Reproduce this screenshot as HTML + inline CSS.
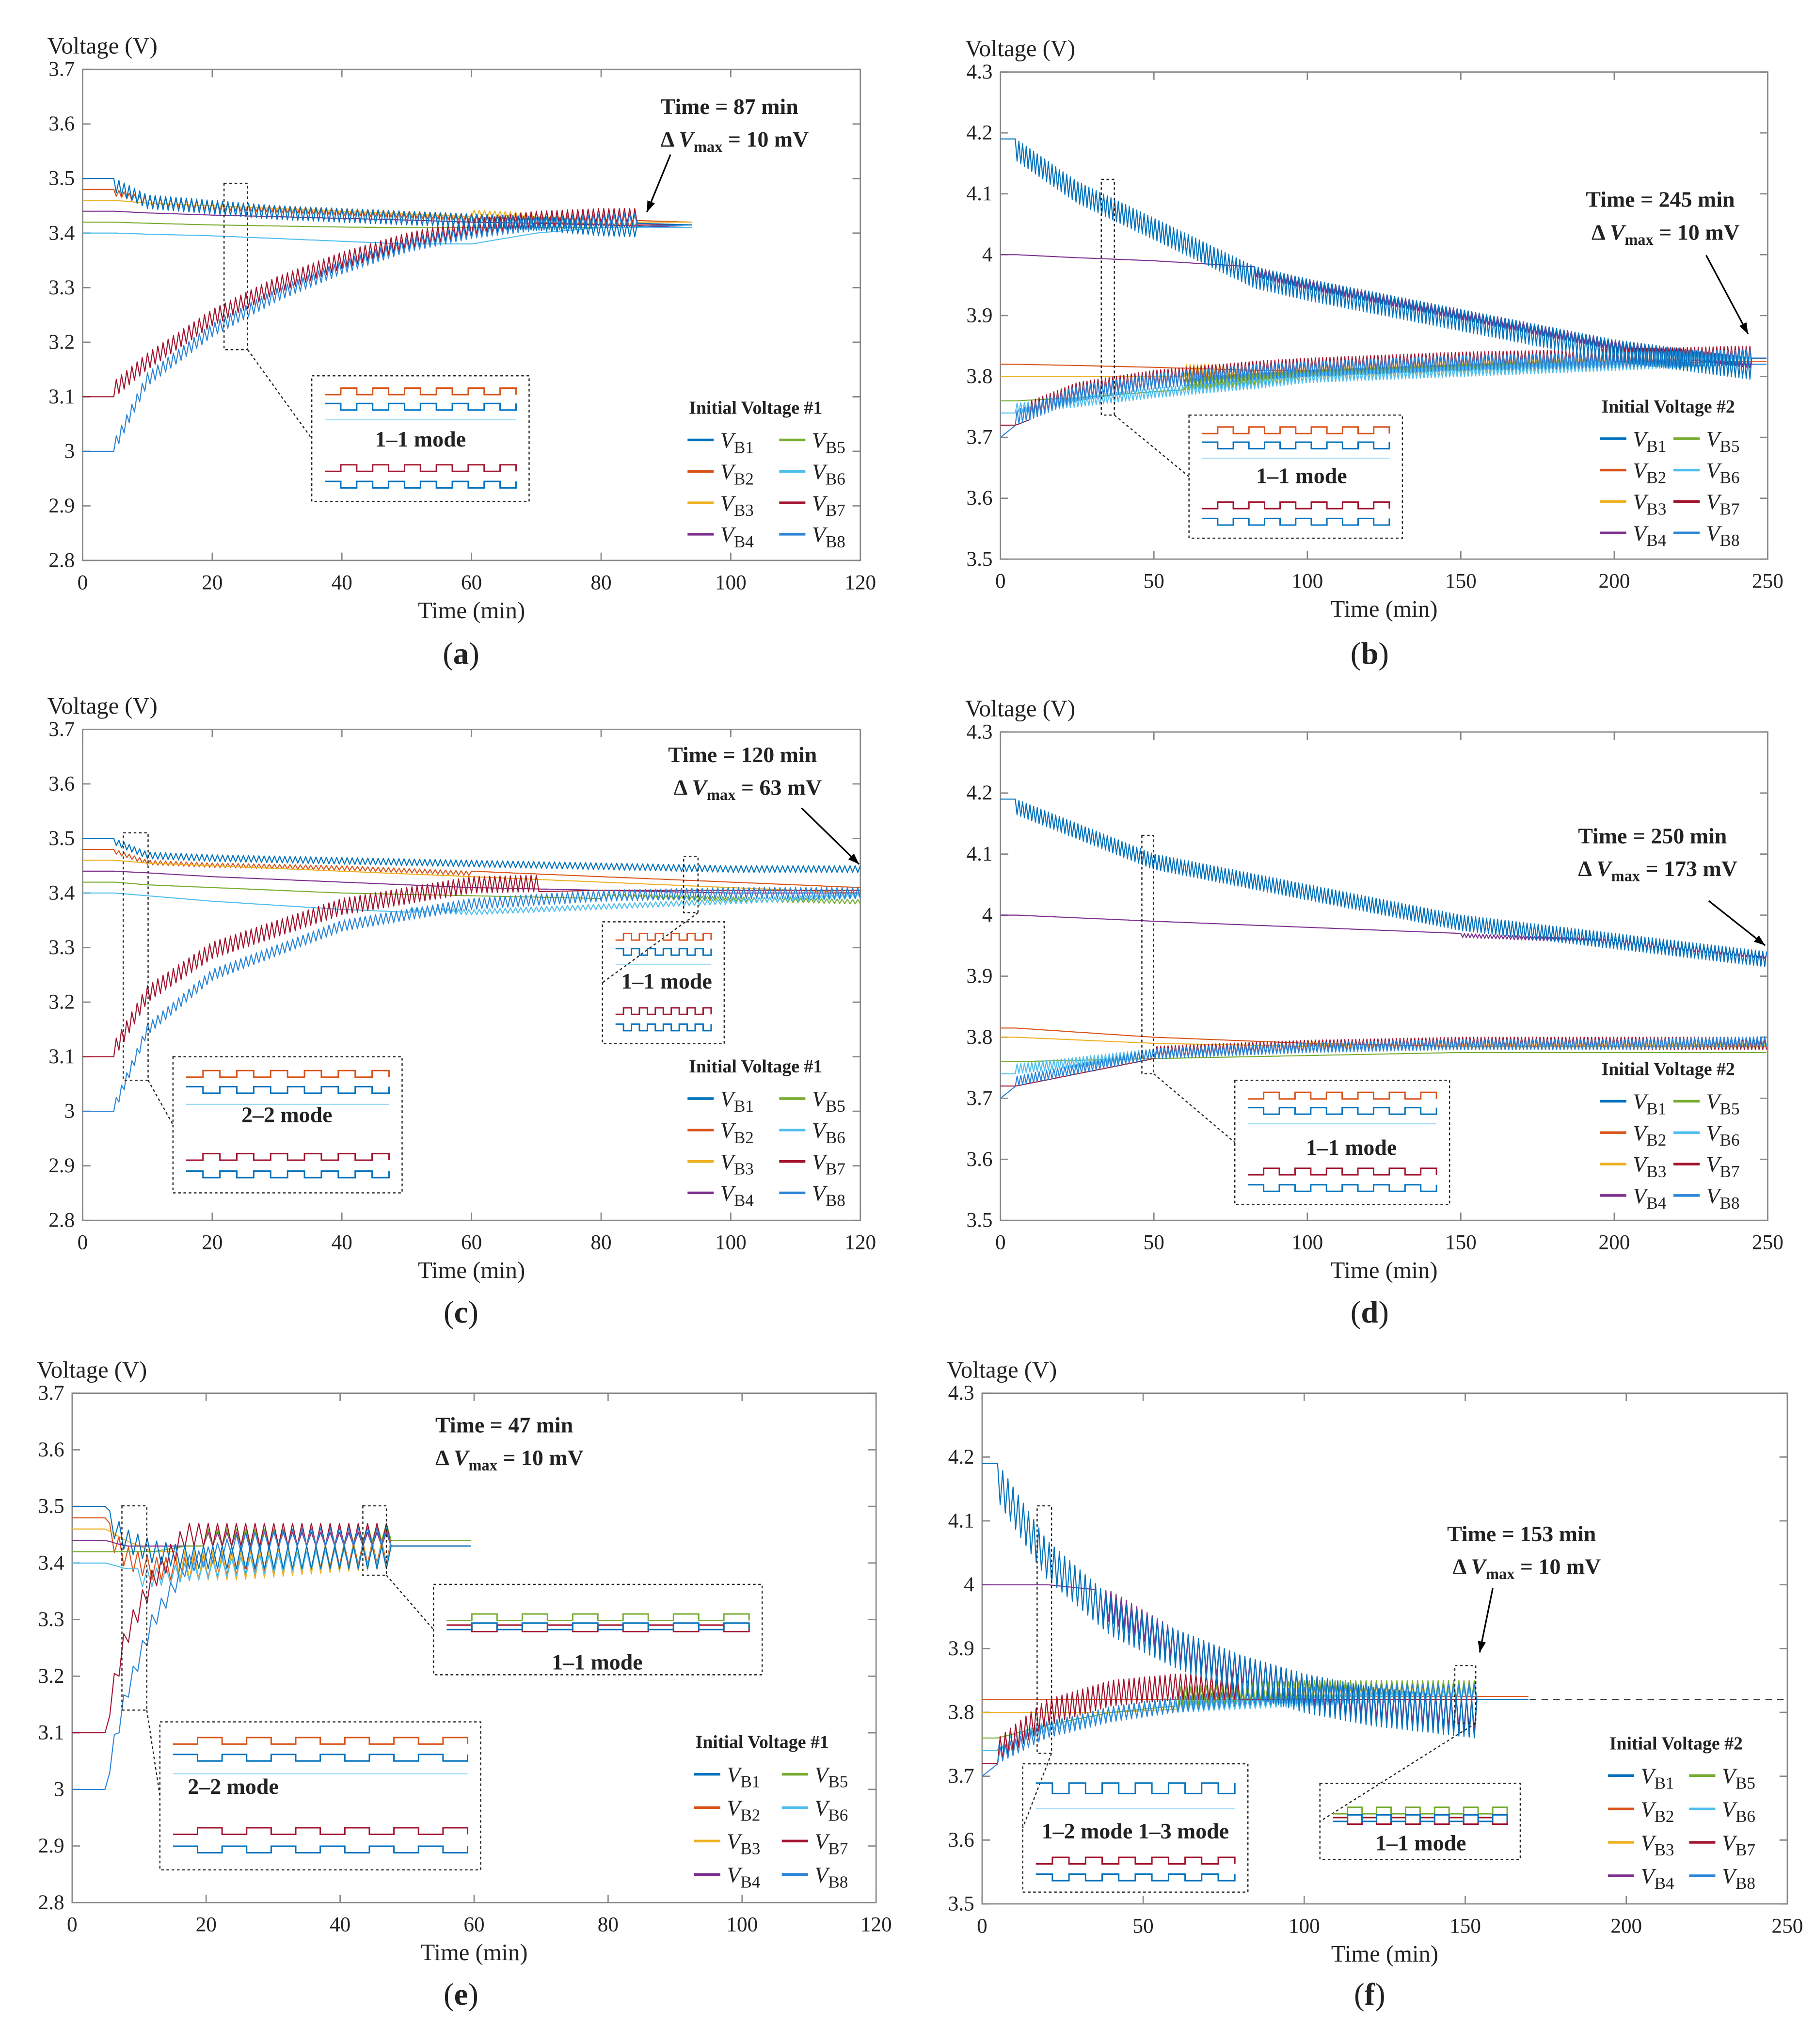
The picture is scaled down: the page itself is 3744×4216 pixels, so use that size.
<!DOCTYPE html>
<html><head><meta charset="utf-8"><style>
html,body{margin:0;padding:0;background:#fff;}
svg{display:block;font-family:"Liberation Serif",serif;}
</style></head><body>
<svg id="fig" xmlns="http://www.w3.org/2000/svg" width="3744" height="4216" viewBox="0 0 1386 1561"></svg>
<script>
const COLORS=["#0072BD","#D95319","#EDB120","#7E2F8E","#77AC30","#4DBEEE","#A2142F","#2A85D8"];
// ---- panel data (time keypoints / voltages / oscillation amplitude & range) ----
const timesA=[0,5,10,20,30,40,50,60,70,80,94];
const voltsA=[[3.50,3.50,3.47,3.46,3.45,3.445,3.44,3.435,3.43,3.42,3.415],[3.48,3.48,3.465,3.455,3.45,3.445,3.44,3.435,3.43,3.425,3.42],[3.46,3.46,3.455,3.45,3.445,3.44,3.435,3.43,3.425,3.42,3.42],[3.44,3.44,3.437,3.433,3.43,3.427,3.424,3.42,3.418,3.415,3.41],[3.42,3.42,3.418,3.415,3.413,3.411,3.41,3.41,3.41,3.41,3.41],[3.40,3.40,3.398,3.395,3.39,3.385,3.38,3.38,3.40,3.41,3.41],[3.10,3.10,3.15,3.23,3.29,3.335,3.37,3.395,3.41,3.415,3.415],[3.00,3.00,3.12,3.21,3.275,3.325,3.365,3.39,3.405,3.41,3.415]];
const ampA=[-0.025,-0.015,0.012,0,0,0,0.03,0.03];
const oscA=[[5,86],[5,86],[60,86],[0,0],[0,0],[0,0],[5,86],[5,86]];
const timesB=[0,5,25,50,83,100,150,200,245,250];
const voltsB=[[4.19,4.19,4.12,4.06,3.98,3.96,3.91,3.86,3.83,3.83],[3.82,3.82,3.818,3.815,3.81,3.81,3.815,3.82,3.825,3.825],[3.80,3.80,3.80,3.80,3.80,3.80,3.81,3.815,3.82,3.82],[4.00,4.00,3.995,3.99,3.98,3.96,3.91,3.86,3.83,3.83],[3.76,3.76,3.765,3.775,3.785,3.79,3.80,3.81,3.82,3.82],[3.74,3.74,3.75,3.765,3.78,3.79,3.80,3.81,3.82,3.82],[3.72,3.72,3.76,3.78,3.795,3.80,3.81,3.815,3.82,3.82],[3.70,3.72,3.76,3.78,3.795,3.80,3.81,3.815,3.82,3.82]];
const ampB=[-0.035,0,0.02,-0.02,0.02,0.02,0.03,0.03];
const oscB=[[5,245],[0,0],[60,245],[83,245],[60,245],[5,245],[10,245],[5,245]];
const timesC=[0,5,10,20,40,60,80,100,120];
const voltsC=[[3.50,3.50,3.475,3.47,3.465,3.46,3.455,3.45,3.45],[3.48,3.48,3.46,3.455,3.45,3.44,3.43,3.42,3.41],[3.46,3.46,3.455,3.45,3.44,3.43,3.42,3.41,3.40],[3.44,3.44,3.437,3.43,3.42,3.41,3.405,3.40,3.40],[3.42,3.42,3.415,3.41,3.40,3.395,3.39,3.385,3.38],[3.40,3.40,3.395,3.385,3.37,3.36,3.37,3.38,3.39],[3.10,3.10,3.20,3.28,3.36,3.40,3.405,3.405,3.405],[3.00,3.00,3.14,3.24,3.33,3.37,3.385,3.39,3.39]];
const ampC=[-0.012,-0.01,0,0,0.008,0.012,0.03,0.025];
const oscC=[[5,120],[5,60],[0,0],[0,0],[80,120],[50,120],[5,70],[5,120]];
const timesD=[0,5,50,100,150,200,250];
const voltsD=[[4.19,4.19,4.10,4.05,4.00,3.97,3.94],[3.815,3.815,3.80,3.79,3.785,3.785,3.785],[3.80,3.80,3.79,3.785,3.78,3.78,3.78],[4.00,4.00,3.99,3.98,3.97,3.96,3.935],[3.76,3.76,3.765,3.77,3.775,3.775,3.775],[3.74,3.74,3.765,3.775,3.78,3.78,3.78],[3.72,3.72,3.765,3.775,3.78,3.78,3.78],[3.70,3.72,3.765,3.775,3.78,3.78,3.785]];
const ampD=[-0.025,0,0.01,-0.008,0,0.02,0.02,0.02];
const oscD=[[5,250],[0,0],[100,250],[150,250],[0,0],[5,250],[50,250],[5,250]];
const timesE=[0,5,8,12,17,25,35,47,60];
const voltsE=[[3.50,3.50,3.46,3.44,3.43,3.43,3.43,3.43,3.43],[3.48,3.48,3.43,3.41,3.41,3.42,3.43,3.44,3.44],[3.46,3.46,3.44,3.42,3.42,3.42,3.43,3.44,3.44],[3.44,3.44,3.43,3.43,3.43,3.43,3.43,3.43,3.43],[3.42,3.42,3.42,3.42,3.43,3.43,3.43,3.44,3.44],[3.40,3.40,3.39,3.39,3.40,3.41,3.42,3.43,3.43],[3.10,3.10,3.25,3.35,3.43,3.43,3.43,3.43,3.43],[3.00,3.00,3.15,3.28,3.38,3.42,3.43,3.43,3.43]];
const ampE=[-0.04,-0.05,-0.05,0.03,0.03,-0.04,0.04,0.04];
const oscE=[[5,47],[5,47],[15,47],[20,47],[20,47],[10,47],[5,47],[5,47]];
const timesF=[0,5,20,40,60,80,100,120,153,170];
const voltsF=[[4.19,4.19,4.07,3.98,3.93,3.89,3.86,3.84,3.82,3.82],[3.82,3.82,3.82,3.82,3.82,3.82,3.825,3.825,3.825,3.825],[3.80,3.80,3.80,3.80,3.805,3.81,3.815,3.82,3.82,3.82],[4.00,4.00,4.00,3.99,3.93,3.89,3.86,3.84,3.82,3.82],[3.76,3.76,3.78,3.80,3.81,3.815,3.82,3.82,3.82,3.82],[3.74,3.74,3.77,3.79,3.80,3.805,3.81,3.815,3.82,3.82],[3.72,3.72,3.78,3.81,3.82,3.82,3.82,3.82,3.82,3.82],[3.70,3.72,3.76,3.785,3.80,3.81,3.815,3.82,3.82,3.82]];
const ampF=[-0.06,0,0.02,-0.06,0.03,0.02,0.04,0.03];
const oscF=[[5,153],[0,0],[60,153],[35,153],[60,153],[5,153],[5,80],[5,153]];
const yTicks1=["2.8","2.9","3","3.1","3.2","3.3","3.4","3.5","3.6","3.7"];
const yTicks2=["3.5","3.6","3.7","3.8","3.9","4","4.1","4.2","4.3"];
const xTicks120=[0,20,40,60,80,100,120];
const xTicks250=[0,50,100,150,200,250];
const seriesLabels=["B1","B2","B3","B4","B5","B6","B7","B8"];

const svg=document.getElementById('fig');
const NS="http://www.w3.org/2000/svg";
function mk(tag,attrs,parent,name,inter){
  const el=document.createElementNS(NS,tag);
  for(const k in attrs) el.setAttribute(k,attrs[k]);
  
  
  (parent||svg).appendChild(el);return el;
}
function txt(x,y,s,opts,parent,name){
  const a=Object.assign({x:x,y:y,'font-size':16,fill:'#222'},opts||{});
  const t=mk('text',a,parent,name,false);t.textContent=s;return t;
}
function interp(T,V,t){
  if(t<=T[0])return V[0];
  for(let i=1;i<T.length;i++){if(t<=T[i]){const f=(t-T[i-1])/(T[i]-T[i-1]);return V[i-1]+f*(V[i]-V[i-1]);}}
  return V[V.length-1];
}
const panels=[
 {id:'a',x0:63,x1:657,y0:53,y1:428,xmax:120,ymin:2.8,ymax:3.7,yt:yTicks1,xt:xTicks120,T:timesA,V:voltsA,A:ampA,O:oscA,per:0.8,leg:"Initial Voltage #1",lx:525,ly:312,ls:24,lc2:70,
  ann:["Time = 87 min","10 mV",557,87,[512,118,494,162]],lab:[352,507],
  boxes:[[171,140,189,267,238,287,404,383,"1–1 mode",321,341,0]]},
 {id:'b',x0:764,x1:1350,y0:55,y1:427,xmax:250,ymin:3.5,ymax:4.3,yt:yTicks2,xt:xTicks250,T:timesB,V:voltsB,A:ampB,O:oscB,per:1.2,leg:"Initial Voltage #2",lx:1222,ly:311,ls:24,lc2:56,
  ann:["Time = 245 min","10 mV",1268,158,[1303,195,1335,255]],lab:[1046,507],
  boxes:[[841,137,851,317,908,317,1071,411,"1–1 mode",994,369,0]]},
 {id:'c',x0:63,x1:657,y0:557,y1:932,xmax:120,ymin:2.8,ymax:3.7,yt:yTicks1,xt:xTicks120,T:timesC,V:voltsC,A:ampC,O:oscC,per:0.8,leg:"Initial Voltage #1",lx:525,ly:815,ls:24,lc2:70,
  ann:["Time = 120 min","63 mV",567,582,[612,617,656,660]],lab:[352,1010],
  boxes:[[94,636,113,825,132,807,307,911,"2–2 mode",219,857,0],[522,654,533,697,460,704,553,797,"1–1 mode",509,755,0]]},
 {id:'d',x0:764,x1:1350,y0:559,y1:932,xmax:250,ymin:3.5,ymax:4.3,yt:yTicks2,xt:xTicks250,T:timesD,V:voltsD,A:ampD,O:oscD,per:1.2,leg:"Initial Voltage #2",lx:1222,ly:817,ls:24,lc2:56,
  ann:["Time = 250 min","173 mV",1262,644,[1305,688,1348,722]],lab:[1046,1010],
  boxes:[[872,638,881,820,943,825,1107,920,"1–1 mode",1032,882,0]]},
 {id:'e',x0:55,x1:669,y0:1064,y1:1453,xmax:120,ymin:2.8,ymax:3.7,yt:yTicks1,xt:xTicks120,T:timesE,V:voltsE,A:ampE,O:oscE,per:1.4,leg:"Initial Voltage #1",lx:530,ly:1331,ls:25.5,lc2:67,
  ann:["Time = 47 min","10 mV",385,1094,null],lab:[352,1531],
  boxes:[[93,1150,112,1306,122,1315,367,1428,"2–2 mode",178,1370,0],[277,1150,295,1203,331,1210,582,1279,"1–1 mode",456,1275,1]]},
 {id:'f',x0:750,x1:1365,y0:1064,y1:1454,xmax:250,ymin:3.5,ymax:4.3,yt:yTicks2,xt:xTicks250,T:timesF,V:voltsF,A:ampF,O:oscF,per:1.6,leg:"Initial Voltage #2",lx:1228,ly:1332,ls:25.5,lc2:62,
  ann:["Time = 153 min","10 mV",1162,1177,[1140,1213,1130,1262]],lab:[1046,1531],
  boxes:[[792,1150,803,1339,781,1347,953,1445,"1–2 mode  1–3 mode",867,1404,2],[1111,1272,1127,1316,1008,1362,1161,1420,"1–1 mode",1085,1413,1]]}
];
panels.forEach(p=>{
  const g=mk('g',{},svg,'panel-'+p.id,false);
  const X=t=>p.x0+(t/p.xmax)*(p.x1-p.x0);
  const Y=v=>p.y1-(v-p.ymin)/(p.ymax-p.ymin)*(p.y1-p.y0);
  mk('rect',{x:p.x0,y:p.y0,width:p.x1-p.x0,height:p.y1-p.y0,fill:'none',stroke:'#888','stroke-width':1},g,'plot-frame-'+p.id,false);
  p.yt.forEach((s,i)=>{const v=p.ymin+i*(p.ymax-p.ymin)/(p.yt.length-1);const y=Y(v);
    mk('line',{x1:p.x0,x2:p.x0+6,y1:y,y2:y,stroke:'#888'},g,'y-tick',false);
    mk('line',{x1:p.x1,x2:p.x1-6,y1:y,y2:y,stroke:'#888'},g,'y-tick-right',false);
    txt(p.x0-6,y+5,s,{'text-anchor':'end','font-size':16},g,'y-tick-label');});
  p.xt.forEach(t=>{const x=X(t);
    mk('line',{x1:x,x2:x,y1:p.y1,y2:p.y1-6,stroke:'#888'},g,'x-tick',false);
    mk('line',{x1:x,x2:x,y1:p.y0,y2:p.y0+6,stroke:'#888'},g,'x-tick-top',false);
    txt(x,p.y1+22,String(t),{'text-anchor':'middle','font-size':16},g,'x-tick-label');});
  txt(p.x0-27,p.y0-12,"Voltage (V)",{'font-size':18},g,'y-axis-title');
  txt((p.x0+p.x1)/2,p.y1+44,"Time (min)",{'text-anchor':'middle','font-size':18},g,'x-axis-title');
  const lab=txt(p.lab[0],p.lab[1],"",{'text-anchor':'middle','font-size':24},g,'panel-label');
  const b1=document.createElementNS(NS,'tspan');b1.textContent="(";lab.appendChild(b1);
  const b2=document.createElementNS(NS,'tspan');b2.setAttribute('font-weight','bold');b2.textContent=p.id;lab.appendChild(b2);
  const b3=document.createElementNS(NS,'tspan');b3.textContent=")";lab.appendChild(b3);
  const dg=mk('g',{},g,'series-group-'+p.id,false);
  const order=[1,2,3,4,5,6,7,0];
  order.forEach(i=>{
    const T=p.T,V=p.V[i],tEnd=T[T.length-1];
    let pts=[];let k=0;const step=p.per/2;
    for(let t=0;t<=tEnd+1e-6;t+=step,k++){
      let v=interp(T,V,t);
      if(p.A[i]!==0 && t>=p.O[i][0] && t<=p.O[i][1] && k%2===1) v+=p.A[i]*(i%2?0.8:1);
      pts.push(X(t).toFixed(1)+','+Y(v).toFixed(1));
    }
    mk('polyline',{points:pts.join(' '),fill:'none',stroke:COLORS[i],'stroke-width':0.8,'stroke-linejoin':'round'},dg,'series-'+seriesLabels[i].toLowerCase(),false);
  });
  if(p.id==='f'){mk('line',{x1:X(170),x2:p.x1,y1:Y(3.82),y2:Y(3.82),stroke:'#333','stroke-dasharray':'5,4','stroke-width':1},g,'target-voltage-line',false);}
  const a=p.ann;
  txt(a[2],a[3],a[0],{'text-anchor':'middle','font-size':17,'font-weight':'bold'},g,'annotation-time');
  const t2=txt(a[2]+4,a[3]+25,"",{'text-anchor':'middle','font-size':17,'font-weight':'bold'},g,'annotation-dvmax');
  const s1=document.createElementNS(NS,'tspan');s1.textContent="Δ ";t2.appendChild(s1);
  const s2=document.createElementNS(NS,'tspan');s2.setAttribute('font-style','italic');s2.textContent="V";t2.appendChild(s2);
  const s3=document.createElementNS(NS,'tspan');s3.setAttribute('font-size','12');s3.setAttribute('dy','4');s3.textContent="max";t2.appendChild(s3);
  const s4=document.createElementNS(NS,'tspan');s4.setAttribute('dy','-4');s4.textContent=" = "+a[1];t2.appendChild(s4);
  if(a[4]){const r=a[4];mk('line',{x1:r[0],y1:r[1],x2:r[2],y2:r[3],stroke:'#000','stroke-width':1.2},g,'annotation-arrow',false);
    const ang=Math.atan2(r[3]-r[1],r[2]-r[0]);const L=9;
    const pA=[r[2]-L*Math.cos(ang-0.35),r[3]-L*Math.sin(ang-0.35)],pB=[r[2]-L*Math.cos(ang+0.35),r[3]-L*Math.sin(ang+0.35)];
    mk('polygon',{points:`${r[2]},${r[3]} ${pA[0]},${pA[1]} ${pB[0]},${pB[1]}`,fill:'#000'},g,'annotation-arrowhead',false);}
  p.boxes.forEach(bx=>{
    mk('rect',{x:bx[0],y:bx[1],width:bx[2]-bx[0],height:bx[3]-bx[1],fill:'none',stroke:'#222','stroke-dasharray':'2,2','stroke-width':0.9},g,'zoom-region-box',false);
    mk('rect',{x:bx[4],y:bx[5],width:bx[6]-bx[4],height:bx[7]-bx[5],fill:'#fff',stroke:'#222','stroke-dasharray':'2,2','stroke-width':0.9},g,'inset-box',false);
    mk('line',{x1:bx[2],y1:bx[3],x2:bx[4],y2:(bx[5]+bx[7])/2,stroke:'#222','stroke-dasharray':'2,2','stroke-width':0.9},g,'inset-connector',false);
    const w=bx[6]-bx[4],h=bx[7]-bx[5];const ix=bx[4]+10,iw=w-20;
    let rows;
    if(bx[11]===1) rows=[[0.4,"#77AC30",-1],[0.45,"#A2142F",1],[0.5,"#0072BD",-1]];
    else if(bx[11]===2) rows=[[0.15,"#0072BD",1.6],[0.78,"#A2142F",-1],[0.86,"#0072BD",1]];
    else rows=[[0.15,"#D95319",-1],[0.22,"#0072BD",1],[0.76,"#A2142F",-1],[0.84,"#0072BD",1]];
    rows.forEach(q=>{
      let d="";const n=6;const yb=bx[5]+h*q[0];const amp=5*q[2];
      for(let j=0;j<n;j++){const xa=ix+j*iw/n,xm=xa+iw/n/2,xb=xa+iw/n;
        d+=(j===0?"M":"L")+xa+","+yb+" L"+xm+","+yb+" L"+xm+","+(yb+amp)+" L"+xb+","+(yb+amp)+" L"+xb+","+yb;}
      mk('path',{d:d,fill:'none',stroke:q[1],'stroke-width':1.1},g,'inset-waveform',false);});
    if(bx[11]!==1) mk('line',{x1:ix,x2:ix+iw,y1:bx[5]+h*0.35,y2:bx[5]+h*0.35,stroke:'#9ddcf5','stroke-width':0.8},g,'inset-flat-line',false);
    txt(bx[9],bx[10],bx[8],{'text-anchor':'middle','font-size':17,'font-weight':'bold'},g,'inset-mode-label');
  });
  txt(p.lx+52,p.ly+4,p.leg,{'text-anchor':'middle','font-size':14,'font-weight':'bold'},g,'legend-title');
  seriesLabels.forEach((s,i)=>{const col=Math.floor(i/4),row=i%4;const x=p.lx+col*p.lc2,y=p.ly+24+row*p.ls;
    mk('line',{x1:x,x2:x+20,y1:y,y2:y,stroke:COLORS[i],'stroke-width':2},g,'legend-swatch-'+s.toLowerCase(),false);
    const t=txt(x+25,y+6,"",{'font-size':17},g,'legend-entry-'+s.toLowerCase());
    const v=document.createElementNS(NS,'tspan');v.setAttribute('font-style','italic');v.textContent="V";t.appendChild(v);
    const sub=document.createElementNS(NS,'tspan');sub.setAttribute('font-size','13');sub.setAttribute('dy','4');sub.textContent=s;t.appendChild(sub);});
});
</script>
</body></html>
